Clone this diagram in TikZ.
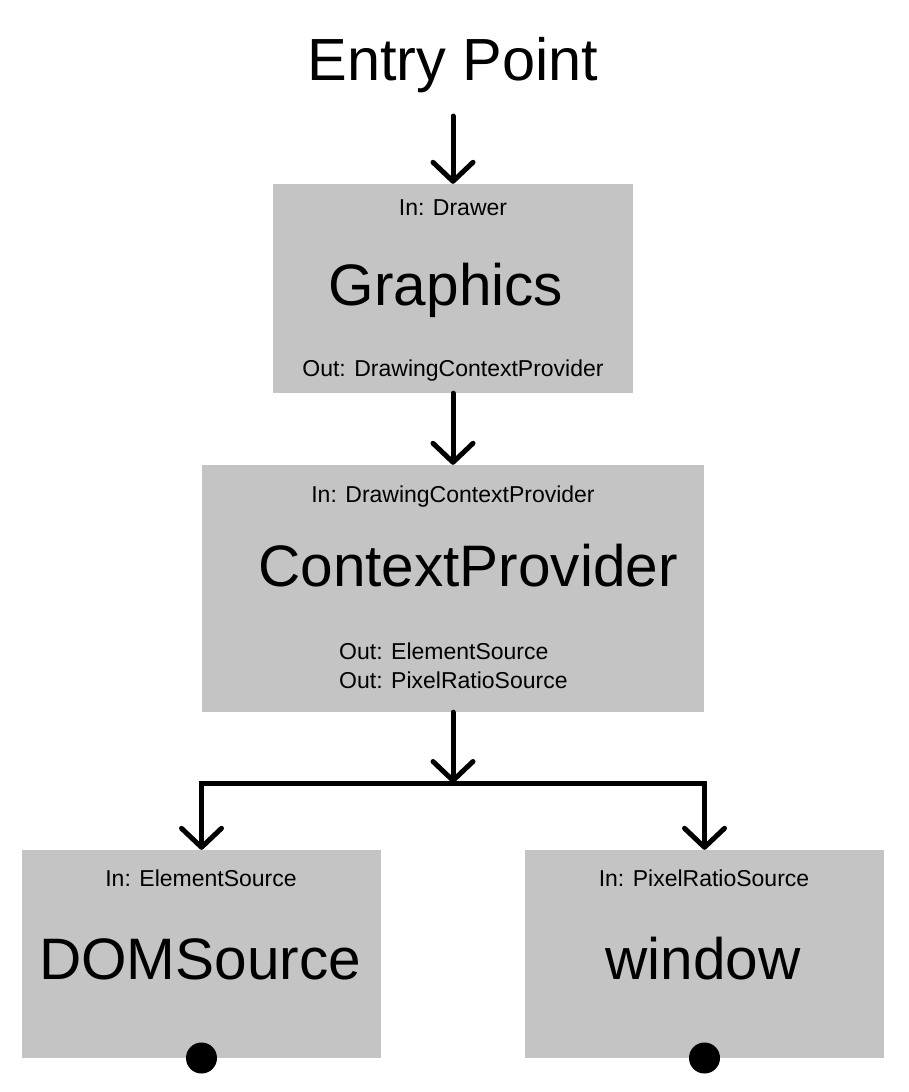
\documentclass[tikz,border=0pt]{standalone}
\usepackage{fontspec}
\setmainfont{Liberation Sans}
\usetikzlibrary{arrows.meta}
\tikzset{
  box/.style={fill=boxgray, draw=none, inner sep=0pt},
  big/.style={font=\fontsize{58.5}{60}\selectfont, anchor=base, inner sep=0pt},
  small/.style={font=\fontsize{23}{24}\selectfont, anchor=base, inner sep=0pt},
  flow/.style={line width=5pt, line cap=round, line join=miter},
  tip/.style={-{Straight Barb[length=19pt,width=40pt,line cap=round,line join=round]}},
  dot/.style={circle, fill=black, minimum size=31pt, inner sep=0pt}
}
\definecolor{boxgray}{HTML}{C4C4C4}
\begin{document}
\begin{tikzpicture}[x=1pt,y=-1pt]
\useasboundingbox (0,0) rectangle (908,1092);
% title
\node[big, font=\fontsize{59.5}{60}\selectfont] (ep) at (453,80) {Entry Point};
\coordinate (eps) at (453,116);
% boxes
\node[box, minimum width=360pt, minimum height=209pt] (g) at (453,288.5) {};
\node[box, minimum width=502pt, minimum height=247pt] (cp) at (453,588.5) {};
\node[box, minimum width=359pt, minimum height=208pt] (dom) at (201.5,954) {};
\node[box, minimum width=359pt, minimum height=208pt] (win) at (704.5,954) {};
% Graphics texts
\node[small] (gin) at (453,215) {In: Drawer};
\node[big] (gt) at (446,305) {Graphics};
\node[small] (gout) at (453,376) {Out: DrawingContextProvider};
% ContextProvider texts
\node[small] (cpin) at (453,502) {In: DrawingContextProvider};
\node[big] (cpt) at (468,586) {ContextProvider};
\node[small, anchor=base west] (cpo1) at (339,659) {Out: ElementSource};
\node[small, anchor=base west] (cpo2) at (339,688) {Out: PixelRatioSource};
% DOMSource texts
\node[small] (domin) at (201,886) {In: ElementSource};
\node[big] (domt) at (200,979) {DOMSource};
% window texts
\node[small] (winin) at (704,886) {In: PixelRatioSource};
\node[big] (wint) at (703,979) {window};
% dots
\node[dot] (d1) at (201.5,1058) {};
\node[dot] (d2) at (704.5,1058) {};
% connectors
\draw[flow, tip] (eps) -- (g.north);
\draw[flow, tip] (g.south) -- (cp.north);
\coordinate (j) at (453,783);
\draw[flow, tip] (cp.south) -- (j);
\draw[flow, tip] (j) -| (dom.north);
\draw[flow, tip] (j) -| (win.north);
\end{tikzpicture}
\end{document}
